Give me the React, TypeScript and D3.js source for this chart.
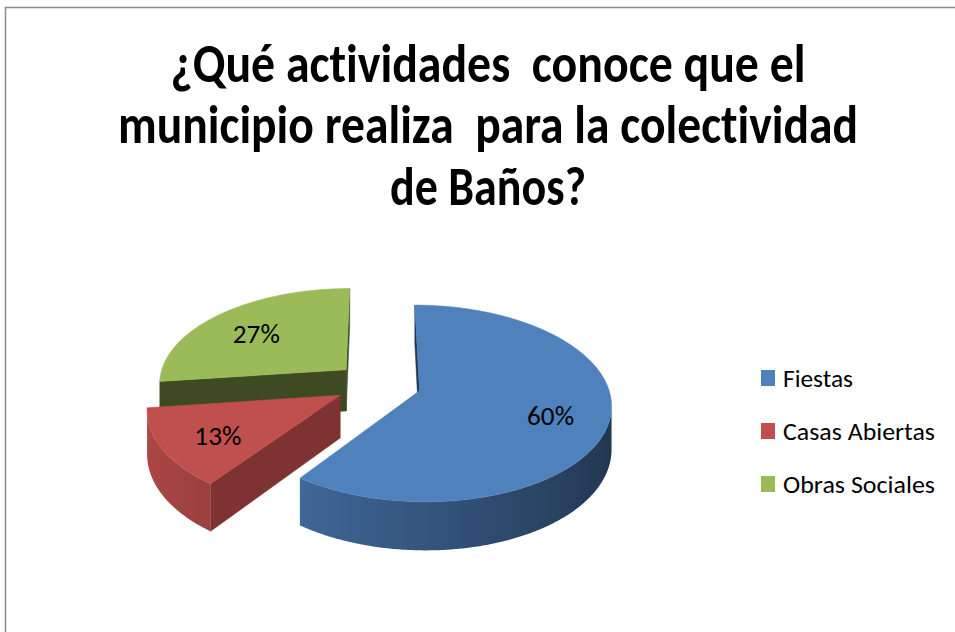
import React from 'react';
import * as d3 from 'd3';

const categories = ['Fiestas', 'Casas Abiertas', 'Obras Sociales'];
const values = [60, 13, 27];
const valueLabels = ['60%', '13%', '27%'];
const titleLines = [
  '¿Qué actividades  conoce que el',
  'municipio realiza  para la colectividad',
  'de Baños?',
];

const colors = ['#4F81BD', '#C0504D', '#9BBB59'];
const cutColors = ['#1f3452', '#7e3231', '#3f4a23'];

const W = 955;
const H = 632;
const G = { cx: 378, cy: 384, rx: 188, ry: 95, p: 0.127, depth: 42, explode: 0.23 };
const FONT = "Carlito, 'Open Sans', sans-serif";

type P = [number, number];

function proj(X: number, Z: number, down: number): P {
  const s = 1 / (1 + G.p * Z);
  return [G.cx + G.rx * X * s, G.cy + (-G.ry * Z + G.depth * down) * s];
}

function area(pts: P[]) {
  let a = 0;
  for (let i = 0; i < pts.length; i++) {
    const [x1, y1] = pts[i];
    const [x2, y2] = pts[(i + 1) % pts.length];
    a += x1 * y2 - x2 * y1;
  }
  return a / 2;
}

const poly = (pts: P[]) => (d3.line()(pts as any) || '') + 'Z';

function shadeColor(base: string, t: number) {
  const b = 0.66 + 0.24 * -Math.sin(t);
  const c = d3.rgb(base);
  return d3.rgb(c.r * b, c.g * b, c.b * b).formatHex();
}

export default function App() {
  const arcs = d3.pie<number>().sort(null).value((d) => d)(values);

  const slices = arcs.map((a, i) => {
    const a0 = a.startAngle;
    const a1 = a.endAngle;
    const mid = (a0 + a1) / 2;
    const ox = G.explode * Math.sin(mid);
    const oz = G.explode * Math.cos(mid);
    const pt = (t: number, r: number, down: number) =>
      proj(ox + r * Math.sin(t), oz + r * Math.cos(t), down);
    const n = Math.max(8, Math.ceil((a1 - a0) / (Math.PI / 360)));
    const ts = d3.range(n + 1).map((k) => a0 + ((a1 - a0) * k) / n);

    const centerTop = proj(ox, oz, 0);
    const centerBot = proj(ox, oz, 1);
    const topPts: P[] = [centerTop, ...ts.map((t) => pt(t, 1, 0))];

    const faces: { d: string; fill: string; grad?: any }[] = [];

    const startFace: P[] = [centerTop, pt(a0, 1, 0), pt(a0, 1, 1), centerBot];
    if (area(startFace) < 0) faces.push({ d: poly(startFace), fill: cutColors[i] });
    const endFace: P[] = [centerTop, centerBot, pt(a1, 1, 1), pt(a1, 1, 0)];
    if (area(endFace) < 0) faces.push({ d: poly(endFace), fill: cutColors[i] });

    const vis = d3.range(n).map((j) => {
      const q: P[] = [pt(ts[j], 1, 0), pt(ts[j + 1], 1, 0), pt(ts[j + 1], 1, 1), pt(ts[j], 1, 1)];
      return area(q) < 0;
    });
    const ranges: [number, number][] = [];
    let s = -1;
    vis.forEach((v, j) => {
      if (v && s < 0) s = j;
      if (!v && s >= 0) {
        ranges.push([s, j]);
        s = -1;
      }
    });
    if (s >= 0) ranges.push([s, n]);
    ranges.forEach(([j0, j1], k) => {
      const seg = ts.slice(j0, j1 + 1);
      const top = seg.map((t) => pt(t, 1, 0));
      const bot = seg.map((t) => pt(t, 1, 1)).reverse();
      const xs = top.map((p) => p[0]);
      const minX = d3.min(xs)!;
      const maxX = d3.max(xs)!;
      const stops = seg
        .filter((_, m) => m % 6 === 0 || m === seg.length - 1)
        .map((t) => ({
          off: maxX > minX ? (pt(t, 1, 0)[0] - minX) / (maxX - minX) : 0,
          color: shadeColor(colors[i], t),
        }))
        .sort((u, v) => u.off - v.off);
      const id = `side-${i}-${k}`;
      faces.push({
        d: poly([...top, ...bot]),
        fill: `url(#${id})`,
        grad: { id, minX, maxX, stops },
      });
    });

    const lp = pt(mid, 0.7, 0);
    return { i, oz, faces, top: poly(topPts), label: [lp[0], lp[1] + 4] as P };
  });

  const order = [...slices].sort((u, v) => v.oz - u.oz);
  const titleWidths = [635, 740, 196];
  const titleBase = [82, 143, 205];
  const legendX = 761;
  const legendBase = [387, 440, 493];
  const legendWidths = [70, 152, 152];

  return (
    <svg
      width={W}
      height={H}
      style={{ position: 'absolute', left: 0, top: 0, background: '#fff' }}
    >
      <defs>
        {slices.flatMap((sl) =>
          sl.faces
            .filter((f) => f.grad)
            .map((f) => (
              <linearGradient
                key={f.grad.id}
                id={f.grad.id}
                gradientUnits="userSpaceOnUse"
                x1={f.grad.minX}
                x2={f.grad.maxX}
                y1={0}
                y2={0}
              >
                {f.grad.stops.map((st: any, m: number) => (
                  <stop key={m} offset={st.off} stopColor={st.color} />
                ))}
              </linearGradient>
            ))
        )}
      </defs>
      <rect x={0} y={0} width={W} height={H} fill="#fff" />
      <rect x={5.5} y={7.5} width={1200} height={1200} fill="none" stroke="#8a8a8a" strokeWidth={1.5} />

      {titleLines.map((t, k) => (
        <g key={k} transform={`translate(488,${titleBase[k]}) scale(1,1.2)`}>
          <text
            x={0}
            y={0}
            textAnchor="middle"
            fontFamily={FONT}
            fontWeight={700}
            fontSize={46}
            textLength={titleWidths[k]}
            lengthAdjust="spacingAndGlyphs"
            style={{ whiteSpace: 'pre', fontVariantLigatures: 'none' }}
            fill="#000"
          >
            {t}
          </text>
        </g>
      ))}

      {order.map((sl) => (
        <g key={sl.i}>
          {sl.faces.map((f, k) => (
            <path key={k} d={f.d} fill={f.fill} stroke={f.fill.startsWith('url') ? 'none' : f.fill} strokeWidth={0.5} />
          ))}
          <path d={sl.top} fill={colors[sl.i]} stroke={colors[sl.i]} strokeWidth={0.5} />
        </g>
      ))}

      {slices.map((sl) => (
        <text
          key={sl.i}
          x={sl.label[0]}
          y={sl.label[1] + 9}
          textAnchor="middle"
          fontFamily={FONT}
          fontSize={26}
          textLength={47}
          lengthAdjust="spacingAndGlyphs"
          fill="#000"
        >
          {valueLabels[sl.i]}
        </text>
      ))}

      {categories.map((c, k) => (
        <g key={c}>
          <rect x={legendX} y={legendBase[k] - 17} width={14} height={16} fill={colors[k]} />
          <text
            x={783}
            y={legendBase[k]}
            fontFamily={FONT}
            fontSize={25}
            textLength={legendWidths[k]}
            lengthAdjust="spacingAndGlyphs"
            style={{ whiteSpace: 'pre' }}
            fill="#000"
          >
            {c}
          </text>
        </g>
      ))}
    </svg>
  );
}
